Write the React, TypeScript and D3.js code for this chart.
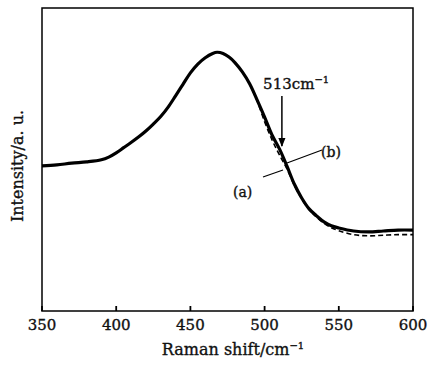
import React from "react";
import * as d3 from "d3";

const shiftB = [350, 360, 370, 380, 390, 395, 400, 405, 410, 415, 420, 425, 430, 435, 440, 445, 450, 455, 460, 465, 468, 472, 476, 480, 485, 490, 495, 500, 505, 510, 515, 520, 525, 530, 535, 540, 545, 550, 560, 570, 580, 590, 600];
const intensityB = [47.9, 48.2, 48.8, 49.2, 49.9, 50.8, 52.2, 53.9, 55.6, 57.4, 59.4, 61.7, 64.2, 67.3, 71.0, 74.8, 78.6, 81.5, 83.6, 85.0, 85.4, 85.0, 83.8, 82.0, 78.9, 74.9, 69.6, 64.0, 58.1, 53.5, 47.9, 41.9, 37.3, 33.7, 31.4, 29.4, 28.1, 27.4, 26.4, 26.1, 26.4, 26.7, 26.7];

const shiftA = [490, 495, 500, 505, 510, 515, 520, 525, 530, 535, 540, 545, 550, 560, 570, 580, 590, 600];
const intensityA = [74.9, 69.3, 62.5, 56.5, 51.5, 47.0, 41.5, 37.0, 33.5, 31.0, 29.0, 27.5, 26.5, 25.2, 24.8, 25.0, 25.2, 25.2];

const xTicks = [350, 400, 450, 500, 550, 600];
const peakShift = 513;

export default function App() {
  const left = 42, right = 413, top = 8, bottom = 311;
  const x = d3.scaleLinear().domain([350, 600]).range([left, right]);
  const y = d3.scaleLinear().domain([0, 100]).range([bottom, top]);
  const line = d3
    .line<[number, number]>()
    .x((d) => x(d[0]))
    .y((d) => y(d[1]))
    .curve(d3.curveCatmullRom);
  const dataB = shiftB.map((s, i) => [s, intensityB[i]] as [number, number]);
  const dataA = shiftA.map((s, i) => [s, intensityA[i]] as [number, number]);
  const font = "'DejaVu Serif', 'Liberation Serif', serif";
  const ax = x(peakShift);
  const thick = { stroke: "#111", strokeWidth: 0.35 } as const;

  return (
    <svg width={430} height={365} style={{ position: "absolute", left: 0, top: 0, background: "#fff" }}>
      <defs>
        <marker id="arr" viewBox="0 0 10 10" refX="9" refY="5" markerWidth="6" markerHeight="8" orient="auto">
          <path d="M0,1 L10,5 L0,9 z" fill="#000" />
        </marker>
      </defs>
      <rect x={left} y={top} width={right - left} height={bottom - top} fill="none" stroke="#000" strokeWidth={1.5} />
      {xTicks.map((t) => (
        <g key={t}>
          <line x1={x(t)} x2={x(t)} y1={bottom} y2={bottom - 5} stroke="#000" strokeWidth={1.8} />
          <text x={x(t)} y={bottom + 19} textAnchor="middle" fontFamily={font} fontSize={15} fill="#111" {...thick}>
            {t}
          </text>
        </g>
      ))}
      <path d={line(dataA) || ""} fill="none" stroke="#000" strokeWidth={1.6} strokeDasharray="5,3" />
      <path d={line(dataB) || ""} fill="none" stroke="#000" strokeWidth={3.2} strokeLinejoin="round" />
      <text x={x(499)} y={89} fontFamily={font} fontSize={15} fill="#111" {...thick}>
        513cm<tspan dy={-6} fontSize={10}>−1</tspan>
      </text>
      <line x1={ax - 2} x2={ax - 2} y1={96} y2={146} stroke="#000" strokeWidth={1.5} markerEnd="url(#arr)" />
      <line x1={322} y1={150} x2={287} y2={163} stroke="#000" strokeWidth={1.2} />
      <text x={321} y={157} fontFamily={font} fontSize={14} fill="#111" {...thick}>(b)</text>
      <line x1={263} y1={177} x2={283} y2={170} stroke="#000" strokeWidth={1.2} />
      <text x={233} y={197} fontFamily={font} fontSize={14} fill="#111" {...thick}>(a)</text>
      <text x={233} y={355} textAnchor="middle" fontFamily={font} fontSize={16} fill="#111" {...thick}>
        Raman shift/cm<tspan dy={-6} fontSize={10}>−1</tspan>
      </text>
      <text transform="translate(23,166) rotate(-90)" textAnchor="middle" fontFamily={font} fontSize={16} fill="#111" {...thick}>
        Intensity/a. u.
      </text>
    </svg>
  );
}
